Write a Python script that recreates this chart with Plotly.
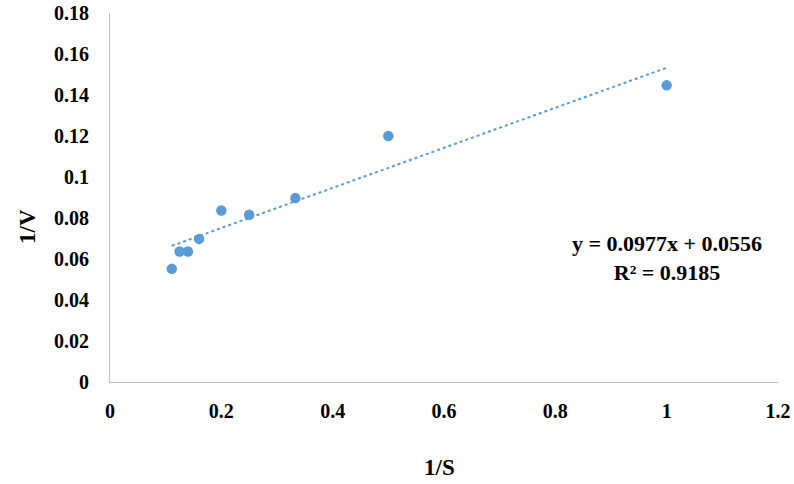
import plotly.graph_objects as go

inv_s = [0.111, 0.125, 0.140, 0.160, 0.200, 0.250, 0.333, 0.500, 1.000]
inv_v = [0.0552, 0.0637, 0.0637, 0.0698, 0.0837, 0.0816, 0.0897, 0.1200, 0.1447]
slope = 0.0977
intercept = 0.0556
r2 = 0.9185
x_ticks = [0, 0.2, 0.4, 0.6, 0.8, 1, 1.2]
y_ticks = [0, 0.02, 0.04, 0.06, 0.08, 0.1, 0.12, 0.14, 0.16, 0.18]

blue = "#5B9BD5"
font_family = "Liberation Serif"
W, H = 794, 484
ML, MR, MT, MB = 110, 16, 13, 102

tx = [min(inv_s), max(inv_s)]
ty = [slope * v + intercept for v in tx]

fig = go.Figure()
fig.add_trace(go.Scatter(x=tx, y=ty, mode="lines",
                         line=dict(color=blue, width=2, dash="dot"),
                         showlegend=False, hoverinfo="skip"))
fig.add_trace(go.Scatter(x=inv_s, y=inv_v, mode="markers",
                         marker=dict(color=blue, size=10.5),
                         showlegend=False))

fig.add_annotation(x=1.0, y=0.0607, xref="x", yref="y",
                   xanchor="center", yanchor="middle",
                   text=f"<b>y = {slope}x + {intercept}</b><br><b>R² = {r2}</b>",
                   showarrow=False, align="center",
                   font=dict(family=font_family, size=22, color="black"))

# axis titles placed as in the reference (paper coordinates)
pw, ph = W - ML - MR, H - MT - MB
fig.add_annotation(x=(439 - ML) / pw, y=(H - MB - 467) / ph, xref="paper", yref="paper",
                   xanchor="center", yanchor="middle",
                   text="<b>1/S</b>", showarrow=False,
                   font=dict(family=font_family, size=23, color="black"))
fig.add_annotation(x=(27 - ML) / pw, y=(H - MB - 227) / ph, xref="paper", yref="paper",
                   xanchor="center", yanchor="middle",
                   text="<b>1/V</b>", showarrow=False, textangle=-90,
                   font=dict(family=font_family, size=23, color="black"))

fig.update_layout(
    width=W, height=H,
    margin=dict(l=ML, r=MR, t=MT, b=MB, autoexpand=False),
    paper_bgcolor="white", plot_bgcolor="white",
    font=dict(family=font_family, color="black"),
)
fig.update_xaxes(range=[0, 1.2], tickvals=x_ticks,
                 ticktext=[f"<b>{v:g}</b>" for v in x_ticks],
                 tickfont=dict(size=20, family=font_family),
                 showgrid=False, zeroline=False,
                 showline=True, linecolor="#BFBFBF", linewidth=1,
                 ticks="outside", ticklen=11, tickcolor="rgba(0,0,0,0)")
fig.update_yaxes(range=[0, 0.18], tickvals=y_ticks,
                 ticktext=[f"<b>{v:g}</b>" for v in y_ticks],
                 tickfont=dict(size=20, family=font_family),
                 showgrid=False, zeroline=False,
                 showline=True, linecolor="#BFBFBF", linewidth=1,
                 ticks="outside", ticklen=16, tickcolor="rgba(0,0,0,0)")

fig.write_html("out.html")
